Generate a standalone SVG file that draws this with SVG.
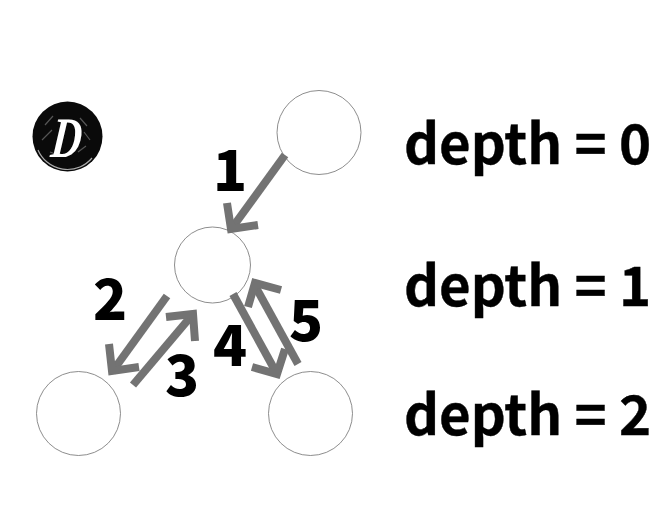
<svg xmlns="http://www.w3.org/2000/svg" width="650" height="511" viewBox="0 0 650 511">
<style>
.node{fill:#fff;stroke:#707070;stroke-width:.8}
.arrow{fill:none;stroke:#737373;stroke-width:8;stroke-miterlimit:10}
.num{font-family:"Noto Sans CJK SC","Noto Sans",sans-serif;font-weight:900;font-size:56px;fill:#000;text-anchor:middle}
.depth{font-family:"Noto Sans CJK SC","Noto Sans",sans-serif;font-weight:700;font-size:54.500px;fill:#000;stroke:#000;stroke-width:.4}
</style>
<rect width="650" height="511" fill="#fff"/>
<g id="logo">
<circle cx="67.500" cy="136.500" r="35" fill="#0a0a0a"/>
<path d="M38 150A32 32 0 0 0 92 158" fill="none" stroke="#aaa" stroke-width="1.2"/>
<path d="M45 125l8-9M42 140l10-10M80 118l7 8M84 132l6 8M78 152l8-6M50 152l8 3" stroke="#555" stroke-width="1.2" fill="none"/>
<text transform="translate(65 157) scale(.78 1.06) skewX(-8)" font-family="Liberation Serif,serif" font-weight="700" font-style="italic" font-size="54" fill="#fff" text-anchor="middle">D</text>
</g>
<g id="node-root"><circle class="node" cx="319" cy="132.500" r="42"/></g>
<g id="node-middle"><circle class="node" cx="212.500" cy="265" r="38"/></g>
<g id="node-left"><circle class="node" cx="78.500" cy="413.500" r="42"/></g>
<g id="node-right"><circle class="node" cx="310.500" cy="413.500" r="42"/></g>
<g id="connectors">
<path class="arrow" d="M285 155L232 228"/><path class="arrow" d="M227 203L231 229L258 225"/>
<path class="arrow" d="M167 296L112 372"/><path class="arrow" d="M109 344L112 371L139 367"/>
<path class="arrow" d="M133 385L193 314"/><path class="arrow" d="M166 317L193 314L195 341"/>
<path class="arrow" d="M233 294L277 374"/><path class="arrow" d="M252 367L277 374L285 349"/>
<path class="arrow" d="M298 364L254 284"/><path class="arrow" d="M248 307L255 283L281 290"/>
</g>
<g id="labels">
<text class="num" x="230" y="191">1</text>
<text class="num" x="110" y="320">2</text>
<text class="num" x="182" y="396">3</text>
<text class="num" x="230" y="366">4</text>
<text class="num" x="306" y="341">5</text>
<text class="depth" x="404" y="163.500">depth = 0</text>
<text class="depth" x="404" y="305.500">depth = 1</text>
<text class="depth" x="404" y="434.500">depth = 2</text>
</g>
</svg>
